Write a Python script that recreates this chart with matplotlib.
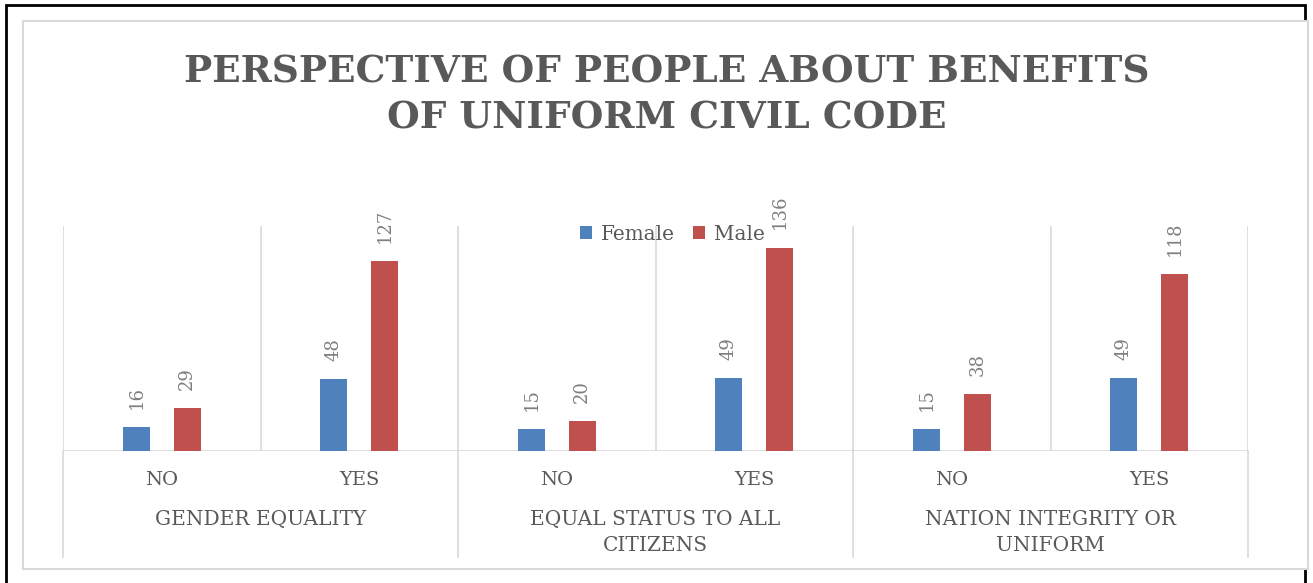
import matplotlib
matplotlib.use("Agg")
import matplotlib.pyplot as plt
from matplotlib.patches import Rectangle
from matplotlib.lines import Line2D
import matplotlib.transforms as mtransforms
import numpy as np

# ---- data ----
answers = ["NO", "YES", "NO", "YES", "NO", "YES"]
groups = ["GENDER EQUALITY", "EQUAL STATUS TO ALL\nCITIZENS", "NATION INTEGRITY OR\nUNIFORM"]
female = [16, 48, 15, 49, 15, 49]
male = [29, 127, 20, 136, 38, 118]
series_names = ["Female", "Male"]
series_colors = ["#4f81bd", "#c0504d"]

W, H = 1313, 583
plt.rcParams["font.family"] = ["DejaVu Serif"]
text_col = "#595959"
label_col = "#7f7f7f"
grid_col = "#d9d9d9"

fig = plt.figure(figsize=(W / 100, H / 100), dpi=100)
fig.patch.set_facecolor("white")


def px(x, y):
    return x / W, 1 - y / H


# outer black frame and the chart box on top of it
x0, y0 = px(5.5, 5)
x1, y1 = px(1304.5, 600)
fig.patches.append(Rectangle((x0, y1), x1 - x0, y0 - y1, transform=fig.transFigure,
                             fill=False, edgecolor="black", lw=2.0, zorder=-3))
bx0, by0 = px(23, 21)
bx1, by1 = px(1308, 569)
fig.patches.append(Rectangle((bx0, by1), bx1 - bx0, by0 - by1, transform=fig.transFigure,
                             facecolor="white", edgecolor=grid_col, lw=1.5, zorder=-2))

# plot area
left, right, top, bottom = 63, 1248, 226, 451
ax = fig.add_axes([left / W, 1 - bottom / H, (right - left) / W, (bottom - top) / H])
ax.set_facecolor("none")
for s in ax.spines.values():
    s.set_visible(False)

x = np.arange(len(answers))
bw = 0.137
off = 0.129
b1 = ax.bar(x - off, female, bw, color=series_colors[0], label=series_names[0], zorder=3)
b2 = ax.bar(x + off, male, bw, color=series_colors[1], label=series_names[1], zorder=3)

ax.set_xlim(-0.5, len(answers) - 0.5)
ax.set_ylim(0, 150.4)
ax.set_yticks([])

# vertical gridlines between categories
for gx in np.arange(-0.5, len(answers), 1.0):
    ax.axvline(gx, color=grid_col, lw=1.2, zorder=1)
ax.axhline(0, color=grid_col, lw=1.2, zorder=2)

# value labels, rotated
for bars, vals in ((b1, female), (b2, male)):
    for rect, v in zip(bars, vals):
        ax.annotate(str(v), (rect.get_x() + rect.get_width() / 2, v),
                    xytext=(0, 13), textcoords="offset points",
                    rotation=90, ha="center", va="bottom",
                    fontsize=13, color=label_col)

# inner category labels
ax.set_xticks(x)
ax.set_xticklabels(answers, fontsize=14, color=text_col)
ax.tick_params(axis="x", length=0, pad=14.5)

# outer group labels and separators
trans = mtransforms.blended_transform_factory(ax.transData, ax.transAxes)
for i, g in enumerate(groups):
    ax.text(2 * i + 0.5, -0.262, g, transform=trans, ha="center", va="top",
            fontsize=14.5, color=text_col, linespacing=1.5)
for sx in (-0.5, 1.5, 3.5, 5.5):
    ax.add_line(Line2D([sx, sx], [0, -(557 - bottom) / (bottom - top)], transform=trans,
                       color=grid_col, lw=1.2, clip_on=False))

# legend
leg = ax.legend(loc="center", bbox_to_anchor=(672 / W, 1 - 234 / H),
                bbox_transform=fig.transFigure, ncol=2, frameon=False,
                fontsize=14.4, handlelength=0.6, handleheight=0.6,
                handletextpad=0.45, columnspacing=0.9, labelcolor=text_col)

# title
fig.text(667 / W, 1 - 95 / H, "PERSPECTIVE OF PEOPLE ABOUT BENEFITS\nOF UNIFORM CIVIL CODE",
         ha="center", va="center", fontsize=27, fontweight="bold", color=text_col,
         linespacing=1.33)

fig.savefig("out.png", dpi=100)
